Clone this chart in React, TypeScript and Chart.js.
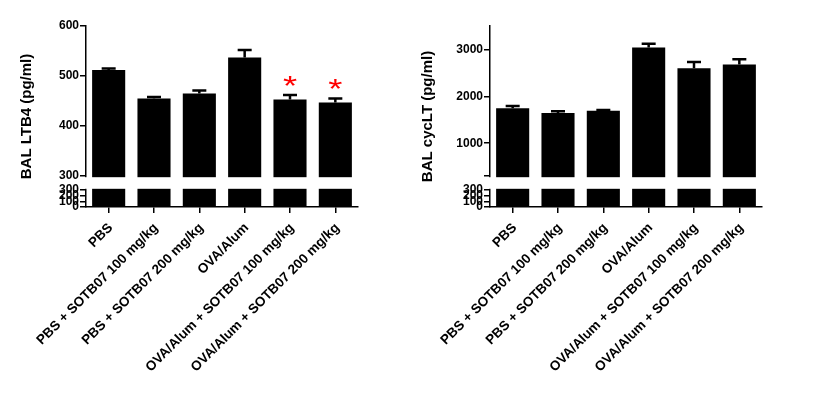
import React, { useEffect, useRef } from 'react';
import { Chart, registerables, LinearScale } from 'chart.js';

// ---------- data ----------
const categories = [
  'PBS',
  'PBS + SOTB07 100 mg/kg',
  'PBS + SOTB07 200 mg/kg',
  'OVA/Alum',
  'OVA/Alum + SOTB07 100 mg/kg',
  'OVA/Alum + SOTB07 200 mg/kg',
];

// Left panel: BAL LTB4 (pg/ml)
const ltb4Means = [512, 455, 465, 537, 453, 447];
const ltb4Errors = [3, 3, 6, 15, 9, 8];
const ltb4Marks = ['', '', '', '', '*', '*'];
const ltb4LowerTicks = [0, 100, 200, 300];
const ltb4LowerLabels = ['0', '100', '200', '300'];
const ltb4UpperTicks = [300, 400, 500, 600];
const ltb4UpperLabels = ['300', '400', '500', '600'];
const ltb4UpperMax = 600;

// Right panel: BAL cycLT (pg/ml)
const cycltMeans = [1745, 1645, 1690, 3040, 2600, 2680];
const cycltErrors = [50, 35, 20, 80, 130, 110];
const cycltMarks = ['', '', '', '', '', ''];
const cycltLowerTicks = [0, 100, 200, 300];
const cycltLowerLabels = ['0', '100', '200', '300'];
const cycltUpperTicks = [300, 1000, 2000, 3000];
const cycltUpperLabels = ['', '1000', '2000', '3000'];
const cycltUpperMax = 3500;

const FONT = "'Liberation Sans', Arial, sans-serif";

// ---------- broken linear scale ----------
class BrokenLinearScale extends (LinearScale as any) {
  static id = 'brokenLinear';
  static defaults = {};

  buildTicks() {
    const b = this.options.brk;
    const ticks: any[] = [];
    b.lowerTicks.forEach((v: number) => ticks.push({ value: v, seg: 0 }));
    b.upperTicks.forEach((v: number) => ticks.push({ value: v, seg: 1 }));
    return ticks;
  }

  _px(value: number, seg: number) {
    const b = this.options.brk;
    const bottom = this.bottom;
    const lowTop = bottom - b.lowerPx;
    const highBottom = lowTop - b.gapPx;
    if (seg === 0) {
      const v = Math.max(b.lowerMin, Math.min(value, b.lowerMax));
      return bottom - ((v - b.lowerMin) / (b.lowerMax - b.lowerMin)) * b.lowerPx;
    }
    const v = Math.max(value, b.upperMin);
    return highBottom - ((v - b.upperMin) / (b.upperMax - b.upperMin)) * (highBottom - this.top);
  }

  getPixelForValue(value: number) {
    const b = this.options.brk;
    return this._px(value, value <= b.lowerMax ? 0 : 1);
  }

  getPixelForTick(index: number) {
    const t = this.ticks[index];
    return this._px(t.value, t.seg);
  }

  getValueForPixel(pixel: number) {
    const b = this.options.brk;
    const bottom = this.bottom;
    const lowTop = bottom - b.lowerPx;
    const highBottom = lowTop - b.gapPx;
    if (pixel >= lowTop) {
      return b.lowerMin + ((bottom - pixel) / b.lowerPx) * (b.lowerMax - b.lowerMin);
    }
    return b.upperMin + ((highBottom - pixel) / (highBottom - this.top)) * (b.upperMax - b.upperMin);
  }
}

Chart.register(...registerables, BrokenLinearScale as any);

function overlayPlugin(errors: number[], marks: string[]) {
  return {
    id: 'brokenOverlay',
    afterDatasetsDraw(chart: any) {
      const { ctx, chartArea } = chart;
      const y = chart.scales.y;
      const b = y.options.brk;
      const meta = chart.getDatasetMeta(0);
      const means = chart.data.datasets[0].data as number[];
      ctx.save();
      // axis break gap
      const gapTop = y._px(b.upperMin, 1);
      const gapBottom = y._px(b.lowerMax, 0);
      ctx.fillStyle = '#ffffff';
      ctx.fillRect(chartArea.left - 4, gapTop + 1.2, chartArea.right - chartArea.left + 8, gapBottom - gapTop - 2.4);
      // error bars (upper only)
      ctx.strokeStyle = '#000000';
      ctx.lineWidth = 2.5;
      meta.data.forEach((bar: any, i: number) => {
        const x = bar.x;
        const base = y.getPixelForValue(means[i]);
        const top = y.getPixelForValue(means[i] + errors[i]);
        ctx.beginPath();
        ctx.moveTo(x, base);
        ctx.lineTo(x, top);
        ctx.moveTo(x - 7, top);
        ctx.lineTo(x + 7, top);
        ctx.stroke();
        if (marks[i]) {
          ctx.save();
          ctx.fillStyle = '#ff0000';
          ctx.font = `28px ${FONT}`;
          ctx.textAlign = 'center';
          ctx.textBaseline = 'alphabetic';
          ctx.translate(x, top - 0.5);
          ctx.scale(1.3, 1);
          ctx.fillText(marks[i], 0, 0);
          ctx.restore();
        }
      });
      ctx.restore();
    },
  };
}

type PanelProps = {
  left: number;
  width: number;
  axisWidth: number;
  rightPad: number;
  title: string;
  titlePad: number;
  means: number[];
  errors: number[];
  marks: string[];
  lowerTicks: number[];
  lowerLabels: string[];
  upperTicks: number[];
  upperLabels: string[];
  upperMax: number;
};

function Panel(p: PanelProps) {
  const ref = useRef<HTMLCanvasElement | null>(null);
  useEffect(() => {
    const canvas = ref.current;
    if (!canvas) return;
    const chart = new Chart(canvas, {
      type: 'bar',
      data: {
        labels: categories,
        datasets: [
          {
            data: p.means,
            backgroundColor: '#000000',
            borderWidth: 0,
            barPercentage: 0.73,
            categoryPercentage: 1,
          },
        ],
      },
      options: {
        responsive: false,
        animation: false,
        events: [],
        layout: { padding: { left: 0, right: p.rightPad, top: 26, bottom: 0 } },
        plugins: { legend: { display: false }, tooltip: { enabled: false } },
        scales: {
          x: {
            type: 'category',
            offset: true,
            afterFit: (s: any) => {
              s.height = 195;
            },
            grid: {
              offset: false,
              drawOnChartArea: false,
              drawTicks: true,
              tickLength: 6,
              color: '#000000',
              lineWidth: 1.5,
            },
            border: { display: true, color: '#000000', width: 1.5 },
            ticks: {
              minRotation: 45,
              maxRotation: 45,
              autoSkip: false,
              padding: 7,
              labelOffset: 2,
              color: '#000000',
              font: { family: FONT, size: 13.5, weight: 'bold' },
            },
          },
          y: {
            type: 'brokenLinear',
            min: 0,
            max: p.upperMax,
            brk: {
              lowerMin: 0,
              lowerMax: 300,
              upperMin: 300,
              upperMax: p.upperMax,
              lowerPx: 17,
              gapPx: 14,
              lowerTicks: p.lowerTicks,
              upperTicks: p.upperTicks,
            },
            afterFit: (s: any) => {
              s.width = p.axisWidth;
            },
            grid: {
              drawOnChartArea: false,
              drawTicks: true,
              tickLength: 6,
              color: '#000000',
              lineWidth: 1.5,
            },
            border: { display: true, color: '#000000', width: 1.5 },
            ticks: {
              autoSkip: false,
              padding: 1,
              color: '#000000',
              font: { family: FONT, size: 12, weight: 'bold' },
              callback: (_v: any, i: number) =>
                i < p.lowerLabels.length ? p.lowerLabels[i] : p.upperLabels[i - p.lowerLabels.length],
            },
            title: {
              display: true,
              text: p.title,
              color: '#000000',
              font: { family: FONT, size: 15, weight: 'bold' },
              padding: { top: p.titlePad, bottom: 0 },
            },
          } as any,
        },
      },
      plugins: [overlayPlugin(p.errors, p.marks)],
    } as any);
    return () => chart.destroy();
  }, []);
  return (
    <canvas
      ref={ref}
      width={p.width}
      height={402}
      style={{ position: 'absolute', left: p.left, top: 0, display: 'block' }}
    />
  );
}

export default function App() {
  return (
    <div style={{ position: 'absolute', left: 0, top: 0, width: 833, height: 402, background: '#ffffff' }}>
      <Panel
        left={0}
        width={416}
        axisWidth={86}
        rightPad={58}
        title="BAL LTB4 (pg/ml)"
        titlePad={18}
        means={ltb4Means}
        errors={ltb4Errors}
        marks={ltb4Marks}
        lowerTicks={ltb4LowerTicks}
        lowerLabels={ltb4LowerLabels}
        upperTicks={ltb4UpperTicks}
        upperLabels={ltb4UpperLabels}
        upperMax={ltb4UpperMax}
      />
      <Panel
        left={416}
        width={417}
        axisWidth={74}
        rightPad={71}
        title="BAL cycLT (pg/ml)"
        titlePad={3}
        means={cycltMeans}
        errors={cycltErrors}
        marks={cycltMarks}
        lowerTicks={cycltLowerTicks}
        lowerLabels={cycltLowerLabels}
        upperTicks={cycltUpperTicks}
        upperLabels={cycltUpperLabels}
        upperMax={cycltUpperMax}
      />
    </div>
  );
}
